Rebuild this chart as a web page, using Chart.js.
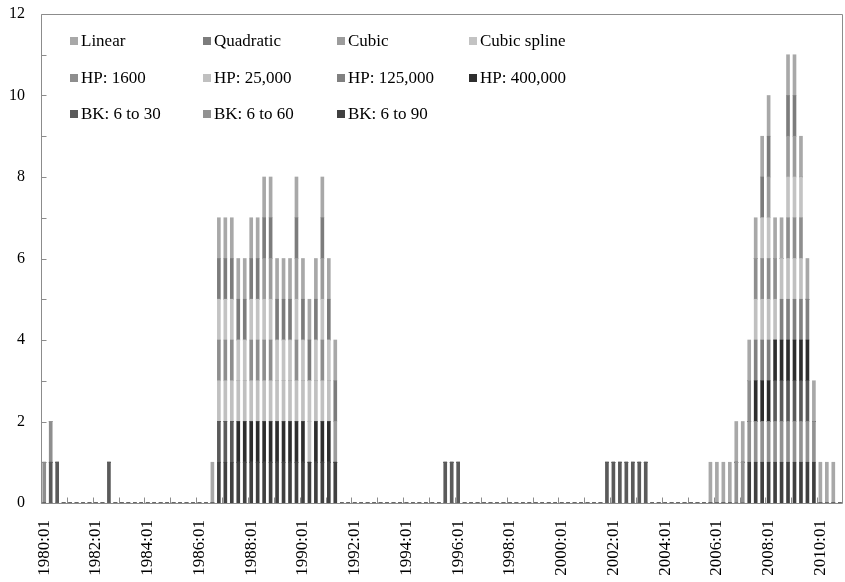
<!DOCTYPE html>
<html>
<head>
<meta charset="utf-8">
<script src="https://cdn.jsdelivr.net/npm/chart.js@4.4.1/dist/chart.umd.min.js"></script>
<style>
  html, body { margin: 0; padding: 0; background: #fff; }
  #wrap { width: 845px; height: 582px; }
</style>
</head>
<body>
<div id="wrap"><canvas id="c" width="845" height="582"></canvas></div>
<script>
// ---------- DATA ----------
const years = [1980,1981,1982,1983,1984,1985,1986,1987,1988,1989,1990,1991,1992,1993,1994,1995,
               1996,1997,1998,1999,2000,2001,2002,2003,2004,2005,2006,2007,2008,2009,2010];
const quarters = ["01","02","03","04"];
const labelEvery = 8; // one label every two years

const seriesNames = ["Linear","Quadratic","Cubic","Cubic spline","HP: 1600","HP: 25,000",
                     "HP: 125,000","HP: 400,000","BK: 6 to 30","BK: 6 to 60","BK: 6 to 90"];

// quarterly 0/1 indicators, four values per year, 1980:01 .. 2010:04
const linear = [
  0,0,0,0, 0,0,0,0, 0,0,0,0, 0,0,0,0, 0,0,0,0, 0,0,0,0, 0,0,1,1, 1,1,1,1,
  1,1,1,1, 1,1,1,1, 1,1,1,1, 1,1,0,0, 0,0,0,0, 0,0,0,0, 0,0,0,0, 0,0,0,0,
  0,0,0,0, 0,0,0,0, 0,0,0,0, 0,0,0,0, 0,0,0,0, 0,0,0,0, 0,0,0,0, 0,0,0,0,
  0,0,0,0, 0,0,0,1, 1,1,1,1, 1,1,1,1, 1,1,1,1, 1,1,1,1, 1,1,1,0];
const quadratic = [
  0,0,0,0, 0,0,0,0, 0,0,0,0, 0,0,0,0, 0,0,0,0, 0,0,0,0, 0,0,0,1, 1,1,1,1,
  1,1,1,1, 1,1,1,1, 1,1,1,1, 1,1,0,0, 0,0,0,0, 0,0,0,0, 0,0,0,0, 0,0,0,0,
  0,0,0,0, 0,0,0,0, 0,0,0,0, 0,0,0,0, 0,0,0,0, 0,0,0,0, 0,0,0,0, 0,0,0,0,
  0,0,0,0, 0,0,0,0, 0,0,0,0, 0,0,0,1, 1,0,0,1, 1,0,0,0, 0,0,0,0];
const cubic = [
  0,0,0,0, 0,0,0,0, 0,0,0,0, 0,0,0,0, 0,0,0,0, 0,0,0,0, 0,0,0,0, 0,0,0,0,
  0,0,1,1, 0,0,0,1, 0,0,0,1, 0,1,0,0, 0,0,0,0, 0,0,0,0, 0,0,0,0, 0,0,0,0,
  0,0,0,0, 0,0,0,0, 0,0,0,0, 0,0,0,0, 0,0,0,0, 0,0,0,0, 0,0,0,0, 0,0,0,0,
  0,0,0,0, 0,0,0,0, 0,0,0,0, 0,0,0,0, 1,0,0,1, 1,0,0,0, 0,0,0,0];
const cubicSpline = [
  0,0,0,0, 0,0,0,0, 0,0,0,0, 0,0,0,0, 0,0,0,0, 0,0,0,0, 0,0,0,1, 1,1,1,1,
  1,1,1,1, 1,1,1,1, 1,1,1,1, 1,0,0,0, 0,0,0,0, 0,0,0,0, 0,0,0,0, 0,0,0,0,
  0,0,0,0, 0,0,0,0, 0,0,0,0, 0,0,0,0, 0,0,0,0, 0,0,0,0, 0,0,0,0, 0,0,0,0,
  0,0,0,0, 0,0,0,0, 0,0,0,0, 0,0,0,1, 1,0,0,1, 1,1,0,0, 0,0,0,0];
const hp1600 = [
  1,1,0,0, 0,0,0,0, 0,0,0,0, 0,0,0,0, 0,0,0,0, 0,0,0,0, 0,0,0,1, 1,1,0,0,
  1,1,1,1, 0,0,0,1, 0,0,0,1, 0,0,0,0, 0,0,0,0, 0,0,0,0, 0,0,0,0, 0,0,0,0,
  0,0,0,0, 0,0,0,0, 0,0,0,0, 0,0,0,0, 0,0,0,0, 0,0,0,0, 0,0,0,0, 0,0,0,0,
  0,0,0,0, 0,0,0,0, 0,0,0,0, 0,1,1,1, 1,1,0,1, 1,1,0,0, 0,0,0,0];
const hp25000 = [
  0,0,0,0, 0,0,0,0, 0,0,0,0, 0,0,0,0, 0,0,0,0, 0,0,0,0, 0,0,0,1, 1,1,1,1,
  1,1,1,1, 1,1,1,1, 1,1,1,1, 1,0,0,0, 0,0,0,0, 0,0,0,0, 0,0,0,0, 0,0,0,0,
  0,0,0,0, 0,0,0,0, 0,0,0,0, 0,0,0,0, 0,0,0,0, 0,0,0,0, 0,0,0,0, 0,0,0,0,
  0,0,0,0, 0,0,0,0, 0,0,0,0, 0,0,1,1, 1,1,1,1, 1,1,0,0, 0,0,0,0];
const hp125000 = [
  0,0,0,0, 0,0,0,0, 0,0,0,0, 0,0,0,0, 0,0,0,0, 0,0,0,0, 0,0,0,0, 0,0,0,0,
  0,0,0,0, 0,0,0,0, 0,0,0,0, 0,0,0,0, 0,0,0,0, 0,0,0,0, 0,0,0,0, 0,0,0,0,
  0,0,0,0, 0,0,0,0, 0,0,0,0, 0,0,0,0, 0,0,0,0, 0,0,0,0, 0,0,0,0, 0,0,0,0,
  0,0,0,0, 0,0,0,0, 0,0,0,0, 0,0,1,1, 1,0,1,1, 1,1,1,0, 0,0,0,0];
const hp400000 = [
  0,0,0,0, 0,0,0,0, 0,0,0,0, 0,0,0,0, 0,0,0,0, 0,0,0,0, 0,0,0,0, 0,0,1,1,
  1,1,1,1, 1,1,1,1, 1,0,1,1, 1,0,0,0, 0,0,0,0, 0,0,0,0, 0,0,0,0, 0,0,0,0,
  0,0,0,0, 0,0,0,0, 0,0,0,0, 0,0,0,0, 0,0,0,0, 0,0,0,0, 0,0,0,0, 0,0,0,0,
  0,0,0,0, 0,0,0,0, 0,0,0,0, 0,0,1,1, 1,1,1,1, 1,1,1,0, 0,0,0,0];
const bk6to30 = [
  0,1,1,0, 0,0,0,0, 0,0,1,0, 0,0,0,0, 0,0,0,0, 0,0,0,0, 0,0,0,1, 1,1,0,0,
  0,0,0,0, 0,0,0,0, 0,0,0,0, 0,0,0,0, 0,0,0,0, 0,0,0,0, 0,0,0,0, 0,0,1,1,
  1,0,0,0, 0,0,0,0, 0,0,0,0, 0,0,0,0, 0,0,0,0, 0,0,0,1, 1,1,1,1, 1,1,0,0,
  0,0,0,0, 0,0,0,0, 0,0,0,0, 0,0,0,0, 0,1,1,1, 1,1,1,0, 0,0,0,0];
const bk6to60 = [
  0,0,0,0, 0,0,0,0, 0,0,0,0, 0,0,0,0, 0,0,0,0, 0,0,0,0, 0,0,0,0, 0,0,0,0,
  0,0,0,0, 0,0,0,0, 0,0,0,0, 0,0,0,0, 0,0,0,0, 0,0,0,0, 0,0,0,0, 0,0,0,0,
  0,0,0,0, 0,0,0,0, 0,0,0,0, 0,0,0,0, 0,0,0,0, 0,0,0,0, 0,0,0,0, 0,0,0,0,
  0,0,0,0, 0,0,0,0, 0,0,0,1, 1,1,1,1, 1,1,1,1, 1,1,1,1, 0,0,0,0];
const bk6to90 = [
  0,0,0,0, 0,0,0,0, 0,0,0,0, 0,0,0,0, 0,0,0,0, 0,0,0,0, 0,0,0,1, 1,1,1,1,
  1,1,1,1, 1,1,1,1, 1,1,1,1, 1,1,0,0, 0,0,0,0, 0,0,0,0, 0,0,0,0, 0,0,0,0,
  0,0,0,0, 0,0,0,0, 0,0,0,0, 0,0,0,0, 0,0,0,0, 0,0,0,0, 0,0,0,0, 0,0,0,0,
  0,0,0,0, 0,0,0,0, 0,0,0,0, 0,1,1,1, 1,1,1,1, 1,1,1,1, 0,0,0,0];

const seriesValues = [linear, quadratic, cubic, cubicSpline, hp1600, hp25000,
                      hp125000, hp400000, bk6to30, bk6to60, bk6to90];

// ---------- STYLE ----------
const seriesColors = ["#a8a8a8","#7c7c7c","#9c9c9c","#c3c3c3","#8e8e8e","#c0c0c0",
                      "#808080","#2e2e2e","#5a5a5a","#929292","#404040"];
const FONT = "'Liberation Serif', 'Times New Roman', serif";
const AXIS = "#8c8c8c";

const labels = [];
years.forEach(y => quarters.forEach(q => labels.push(y + ":" + q)));

// Excel stacks the last series at the bottom -> build datasets in reverse
const datasets = [];
for (let i = seriesNames.length - 1; i >= 0; i--) {
  datasets.push({
    label: seriesNames[i],
    data: seriesValues[i],
    backgroundColor: seriesColors[i],
    borderWidth: 0,
    barThickness: 3
  });
}

function noPad(s) {
  s.paddingLeft = 0; s.paddingRight = 0; s.paddingTop = 0; s.paddingBottom = 0;
}

const framePlugin = {
  id: 'frame',
  afterDatasetsDraw(chart) {
    const ctx = chart.ctx, a = chart.chartArea;
    const xs = chart.scales.x, ys = chart.scales.y;
    ctx.save();
    ctx.strokeStyle = AXIS;
    ctx.lineWidth = 1;
    const L = Math.round(a.left) + 0.5, R = Math.round(a.right) - 0.5;
    const T = Math.round(a.top) + 0.5, B = Math.round(a.bottom) + 0.5;
    ctx.beginPath();
    ctx.moveTo(L, T); ctx.lineTo(R, T); ctx.lineTo(R, B); ctx.lineTo(L, B); ctx.closePath();
    ctx.stroke();
    // y ticks (inside)
    ctx.beginPath();
    for (let v = ys.min; v <= ys.max; v++) {
      const y = Math.round(ys.getPixelForValue(v)) + 0.5;
      ctx.moveTo(L, y); ctx.lineTo(L + 5, y);
    }
    // x ticks (inside) at yearly category boundaries
    const n = labels.length;
    const w = (xs.right - xs.left) / n;
    for (let i = 4; i < n; i += 4) {
      const x = Math.round(xs.getPixelForValue(i) - w / 2) + 0.5;
      ctx.moveTo(x, B); ctx.lineTo(x, B - 6);
    }
    ctx.stroke();
    ctx.restore();
  },
  afterDraw(chart) {
    // legend in a 4-column grid, in original series order
    const ctx = chart.ctx;
    const colX = [70, 203, 337, 469];
    const rowY = [41, 78, 114];
    ctx.save();
    ctx.font = "17px " + FONT;
    ctx.textBaseline = "middle";
    seriesNames.forEach((name, i) => {
      const cx = colX[i % 4], cy = rowY[Math.floor(i / 4)];
      ctx.fillStyle = seriesColors[i];
      ctx.fillRect(cx, cy - 4, 8, 8);
      ctx.fillStyle = "#000";
      ctx.fillText(name, cx + 11, cy + 1);
    });
    ctx.restore();
  }
};

new Chart(document.getElementById('c'), {
  type: 'bar',
  data: { labels: labels, datasets: datasets },
  options: {
    responsive: false,
    animation: false,
    devicePixelRatio: 1,
    layout: { padding: { top: 14, right: 2, left: 0, bottom: 0 } },
    plugins: { legend: { display: false }, tooltip: { enabled: false } },
    scales: {
      x: {
        stacked: true,
        grid: { display: false, drawTicks: false },
        border: { display: false },
        ticks: {
          autoSkip: false, minRotation: 90, maxRotation: 90, padding: 17,
          color: "#000", font: { family: FONT, size: 17 },
          callback: (v, i) => (i % labelEvery === 0 ? labels[i] : '')
        },
        afterFit: s => { s.height = 79; noPad(s); }
      },
      y: {
        stacked: true, min: 0, max: 12,
        grid: { display: false, drawTicks: false },
        border: { display: false },
        ticks: {
          stepSize: 1, padding: 16, color: "#000", font: { family: FONT, size: 16 },
          callback: v => (v % 2 === 0 ? v : '')
        },
        afterFit: s => { s.width = 41; noPad(s); }
      }
    }
  },
  plugins: [framePlugin]
});
</script>
</body>
</html>
